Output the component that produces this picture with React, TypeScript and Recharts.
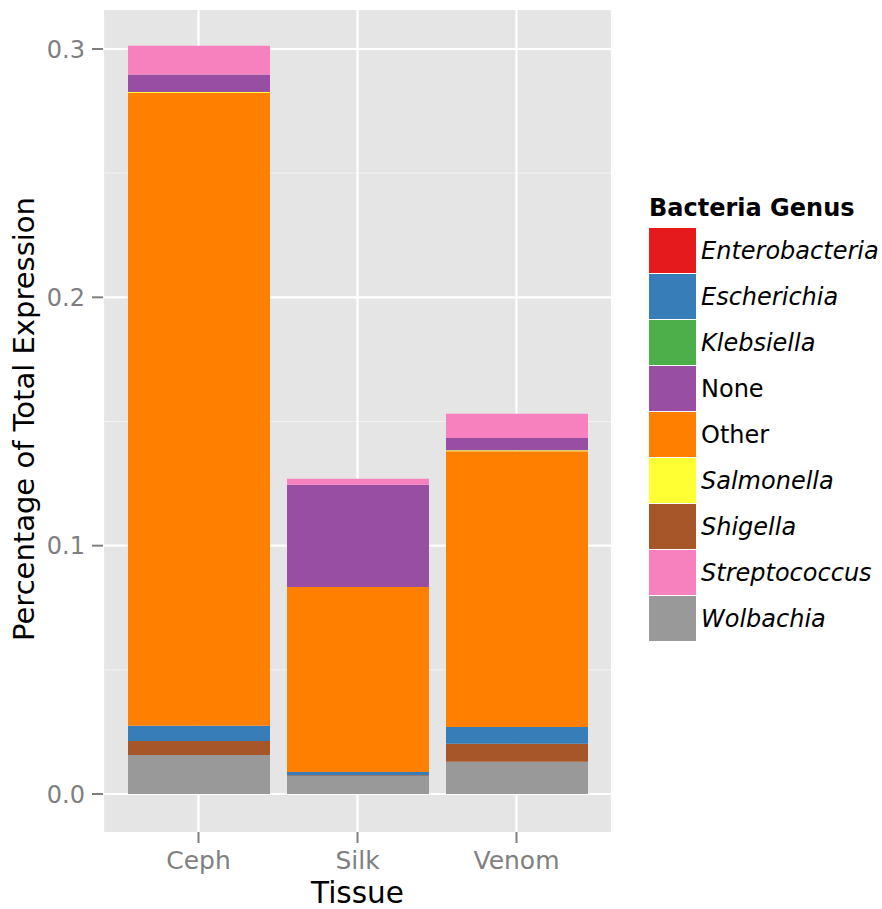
import { Bar, BarChart, CartesianGrid, XAxis, YAxis } from "recharts"

const tissues = ["Ceph", "Silk", "Venom"]

// fraction of total expression, one value per tissue (Ceph, Silk, Venom)
const wolbachia = [0.0157, 0.0072, 0.013]
const shigella = [0.0056, 0.0004, 0.0072]
const escherichia = [0.0062, 0.0013, 0.0068]
const enterobacteria = [0, 0, 0]
const klebsiella = [0, 0, 0]
const other = [0.2548, 0.0745, 0.111]
const salmonella = [0.0004, 0, 0.0004]
const none = [0.007, 0.0411, 0.005]
const streptococcus = [0.0116, 0.0024, 0.0097]

const yTicks = [0, 0.1, 0.2, 0.3]
const yMinor = [0.05, 0.15, 0.25]

const legendItems = [
  { name: "Enterobacteria", color: "#E41A1C", italic: true },
  { name: "Escherichia", color: "#377EB8", italic: true },
  { name: "Klebsiella", color: "#4DAF4A", italic: true },
  { name: "None", color: "#984EA3", italic: false },
  { name: "Other", color: "#FF7F00", italic: false },
  { name: "Salmonella", color: "#FFFF33", italic: true },
  { name: "Shigella", color: "#A65628", italic: true },
  { name: "Streptococcus", color: "#F781BF", italic: true },
  { name: "Wolbachia", color: "#999999", italic: true },
]

// bottom-to-top stacking order as drawn
const stack = [
  { key: "Wolbachia", values: wolbachia, color: "#999999" },
  { key: "Shigella", values: shigella, color: "#A65628" },
  { key: "Escherichia", values: escherichia, color: "#377EB8" },
  { key: "Enterobacteria", values: enterobacteria, color: "#E41A1C" },
  { key: "Klebsiella", values: klebsiella, color: "#4DAF4A" },
  { key: "Other", values: other, color: "#FF7F00" },
  { key: "Salmonella", values: salmonella, color: "#FFFF33" },
  { key: "None", values: none, color: "#984EA3" },
  { key: "Streptococcus", values: streptococcus, color: "#F781BF" },
]

const data = tissues.map((t, i) => {
  const row: Record<string, string | number> = { tissue: t }
  stack.forEach((s) => {
    row[s.key] = s.values[i]
  })
  return row
})

const font = "'DejaVu Sans', sans-serif"

function GenusLegend() {
  return (
    <div style={{ position: "absolute", left: 649, top: 191, width: 233, fontFamily: font }}>
      <div style={{ fontWeight: "bold", fontSize: 24, height: 37, lineHeight: "34px", color: "#000" }}>
        Bacteria Genus
      </div>
      {legendItems.map((item) => (
        <div key={item.name} style={{ display: "flex", alignItems: "center", height: 46 }}>
          <div
            style={{
              width: 47,
              height: 45,
              background: item.color,
              borderBottom: "1px solid #fff",
            }}
          />
          <span style={{ marginLeft: 5, fontSize: 24, fontStyle: item.italic ? "italic" : "normal", color: "#000" }}>
            {item.name}
          </span>
        </div>
      ))}
    </div>
  )
}

function YTitle() {
  const cy = 419
  const cx = 34
  return (
    <text
      x={cx}
      y={cy}
      transform={`rotate(-90 ${cx} ${cy})`}
      textAnchor="middle"
      fontSize={29}
      fontFamily={font}
      fill="#000"
    >
      Percentage of Total Expression
    </text>
  )
}

export default function App() {
  return (
    <div style={{ position: "absolute", left: 0, top: 0, width: 882, height: 909 }}>
      <BarChart
        width={882}
        height={909}
        data={data}
        margin={{ top: 10, right: 270, bottom: 0, left: 0 }}
        barSize={142}
      >
        <CartesianGrid
          fill="#E5E5E5"
          stroke="#F2F2F2"
          strokeWidth={1}
          vertical={false}
          horizontalValues={yMinor}
        />
        <CartesianGrid stroke="#FFFFFF" strokeWidth={2.2} horizontalValues={yTicks} />
        <XAxis
          dataKey="tissue"
          padding={{ left: 16, right: 16 }}
          height={77}
          axisLine={false}
          tickSize={11}
          tickMargin={8}
          tickLine={{ stroke: "#7F7F7F", strokeWidth: 2 }}
          tick={{ fill: "#7F7F7F", fontSize: 25, fontFamily: font }}
          label={{ value: "Tissue", position: "insideBottom", offset: 6, fontSize: 29.5, fontFamily: font, fill: "#000" }}
        />
        <YAxis
          width={103}
          domain={[-0.0153, 0.3157]}
          allowDataOverflow
          ticks={yTicks}
          tickFormatter={(v: number) => v.toFixed(1)}
          axisLine={false}
          tickSize={11}
          tickMargin={7}
          tickLine={{ stroke: "#7F7F7F", strokeWidth: 2 }}
          tick={{ fill: "#7F7F7F", fontSize: 24, fontFamily: font }}
          label={{ content: YTitle }}
        />
        {stack.map((s) => (
          <Bar key={s.key} dataKey={s.key} stackId="a" fill={s.color} isAnimationActive={false} />
        ))}
      </BarChart>
      <GenusLegend />
    </div>
  )
}
